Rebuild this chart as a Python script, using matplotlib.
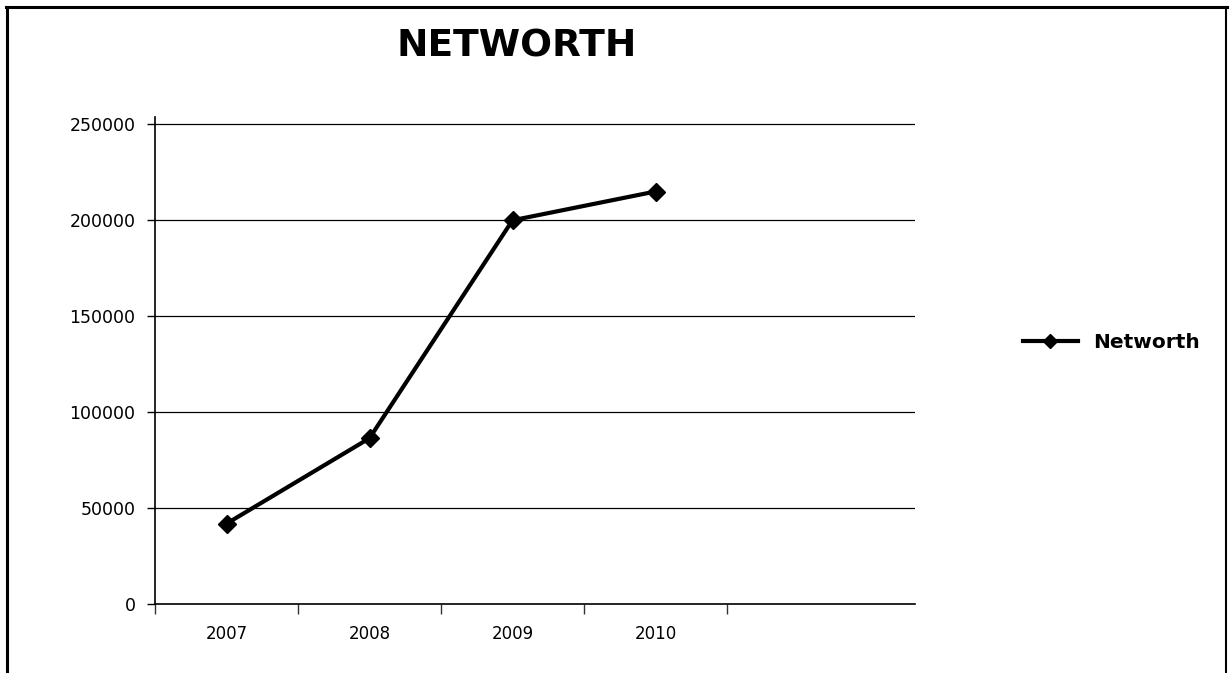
import matplotlib
matplotlib.use("Agg")
import matplotlib.pyplot as plt
from matplotlib.lines import Line2D
from matplotlib.ticker import FixedLocator, NullFormatter

years = ["2007", "2008", "2009", "2010"]
networth = [42000, 86500, 200000, 215000]
y_ticks = [0, 50000, 100000, 150000, 200000, 250000]
series_name = "Networth"
chart_title = "NETWORTH"

W, H = 1231, 673
fig = plt.figure(figsize=(W / 100, H / 100), dpi=100)
fig.patch.set_facecolor("white")

def fx(px):
    return px / W

def fy(py):
    return 1 - py / H

# plot area: x 155..915 px, y 0 at 604 px, spine top at 117 px
y0_px, y250_px, top_px = 604.3, 124.3, 117
ymax = 250000 * (y0_px - top_px) / (y0_px - y250_px)
ax = fig.add_axes([fx(155), fy(y0_px), fx(915) - fx(155), fy(top_px) - fy(y0_px)])

xs = list(range(len(years)))
ax.plot(xs, networth, color="black", lw=3, marker="D", markersize=9.5,
        markerfacecolor="black", markeredgecolor="black", label=series_name,
        zorder=3, clip_on=False)

cat_w = 143.0
ax.set_xlim(-0.5, -0.5 + (915 - 155) / cat_w)
ax.set_ylim(0, ymax)

# gridlines
for v in y_ticks:
    if v > 0:
        ax.axhline(v, color="black", lw=0.9, zorder=1)

ax.set_yticks(y_ticks)
ax.set_yticklabels([str(v) for v in y_ticks])
ax.tick_params(axis="y", direction="out", length=6, width=1, pad=8,
               labelsize=12.5, colors="black")

# category labels at centres, tick marks on boundaries
ax.set_xticks(xs)
ax.set_xticklabels(years)
ax.tick_params(axis="x", which="major", length=0, pad=15, labelsize=12)
ax.xaxis.set_minor_locator(FixedLocator([i - 0.5 for i in range(len(years) + 1)]))
ax.xaxis.set_minor_formatter(NullFormatter())
ax.tick_params(axis="x", which="minor", direction="out", length=7.5, width=1,
               colors="#333333")

for s in ["top", "right"]:
    ax.spines[s].set_visible(False)
ax.spines["left"].set_linewidth(1.2)
ax.spines["bottom"].set_linewidth(1.2)
ax.spines["left"].set_color("black")
ax.spines["bottom"].set_color("black")

fig.text(fx(517), fy(46.5), chart_title, ha="center", va="center",
         fontsize=27, fontweight="bold", family="DejaVu Sans", color="black")

leg = fig.legend(handles=[Line2D([0], [0], color="black", lw=3, marker="D",
                                 markersize=7, label=series_name)],
                 loc="center left", bbox_to_anchor=(fx(1005), fy(343)),
                 frameon=False, handlelength=2.7, handletextpad=0.8,
                 prop={"size": 14.5, "weight": "bold"})

# outer frame: left, top and right edges
fig.add_artist(Line2D([fx(7), fx(7)], [0, fy(7)], color="black", lw=2.2,
                      transform=fig.transFigure))
fig.add_artist(Line2D([fx(6), fx(1227)], [fy(7), fy(7)], color="black", lw=2.2,
                      transform=fig.transFigure))
fig.add_artist(Line2D([fx(1226), fx(1226)], [0, fy(7)], color="black", lw=1.5,
                      transform=fig.transFigure))

fig.savefig("out.png", dpi=100, facecolor="white")
